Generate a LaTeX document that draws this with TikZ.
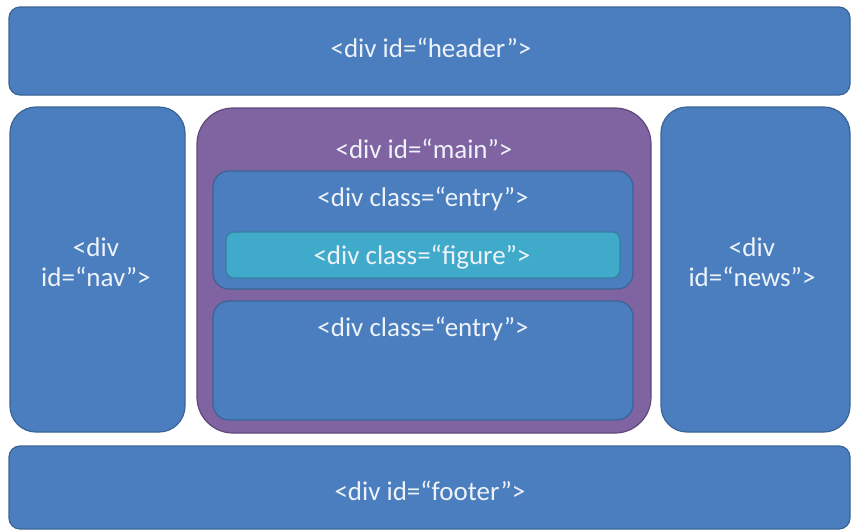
\documentclass[tikz,border=0pt]{standalone}
\usepackage{fontspec}
\setmainfont{Carlito}
\definecolor{boxblue}{HTML}{4A7EBF}
\definecolor{boxedge}{HTML}{3A6496}
\definecolor{mainpurple}{HTML}{8063A1}
\definecolor{mainedge}{HTML}{5E4A7A}
\definecolor{figteal}{HTML}{40AACA}
\definecolor{figedge}{HTML}{3582A0}
\definecolor{labeltext}{HTML}{EEF3FA}
\tikzset{
  divbox/.style={fill=boxblue, draw=boxedge, line width=1.2pt},
  mainbox/.style={fill=mainpurple, draw=mainedge, line width=1.2pt},
  figbox/.style={fill=figteal, draw=figedge, line width=1.2pt},
  lbl/.style={text=labeltext, font=\fontsize{27}{30}\selectfont, align=center, inner sep=0pt}
}
\begin{document}
\begin{tikzpicture}[x=1pt, y=-1pt]
  \useasboundingbox (0,0) rectangle (851,531);
  % page regions
  \draw[divbox, rounded corners=11pt] (9,7) rectangle (850,95);
  \draw[divbox, rounded corners=26pt] (10,107) rectangle (185,432);
  \draw[mainbox, rounded corners=36pt] (197,108) rectangle (651,433);
  \draw[divbox, rounded corners=26pt] (661,107) rectangle (850,432);
  \draw[divbox, rounded corners=11pt] (9,446) rectangle (850,529);
  % entries inside main
  \draw[divbox, rounded corners=16pt] (213,171) rectangle (633,289);
  \draw[figbox, rounded corners=8pt] (226,232) rectangle (620,278);
  \draw[divbox, rounded corners=16pt] (213,301) rectangle (633,420);
  % labels
  \node[lbl] (header) at (431,48) {<div id=“header”>};
  \node[lbl] (nav) at (96,262) {<div\\id=“nav”>};
  \node[lbl] (main) at (424,149) {<div id=“main”>};
  \node[lbl] (news) at (752,262) {<div\\id=“news”>};
  \node[lbl] (entrya) at (423,199) {<div class=“entry”>};
  \node[lbl] (figure) at (422,257) {<div class=“figure”>};
  \node[lbl] (entryb) at (423,329) {<div class=“entry”>};
  \node[lbl] (footer) at (430,491) {<div id=“footer”>};
\end{tikzpicture}
\end{document}
